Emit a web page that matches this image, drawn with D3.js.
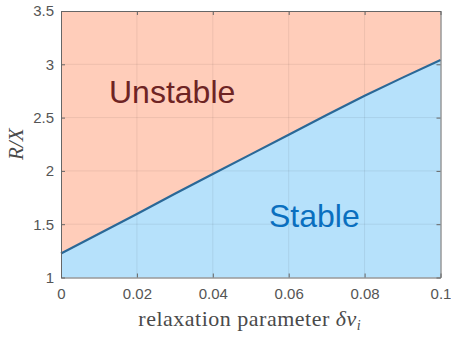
<!DOCTYPE html>
<html>
<head>
<meta charset="utf-8">
<script src="https://cdn.jsdelivr.net/npm/d3@7"></script>
<style>
  html, body { margin: 0; padding: 0; background: #fff; }
  svg { display: block; }
</style>
</head>
<body>
<svg id="chart" width="451" height="340"></svg>
<script>
// Stability boundary: critical R/X ratio versus relaxation parameter
const relaxation = [0, 0.01, 0.02, 0.03, 0.04, 0.05, 0.06, 0.07, 0.08, 0.09, 0.1];
const boundaryRX = [1.225, 1.41, 1.595, 1.785, 1.97, 2.155, 2.34, 2.525, 2.705, 2.875, 3.04];
const xTicks = [0, 0.02, 0.04, 0.06, 0.08, 0.1];
const yTicks = [1, 1.5, 2, 2.5, 3, 3.5];
const regionLabels = ["Unstable", "Stable"];

const W = 451, H = 340;
const m = { left: 61, right: 10.5, top: 11, bottom: 62.5 };
const svg = d3.select("#chart");

const x = d3.scaleLinear().domain([0, 0.1]).range([m.left, W - m.right]);
const y = d3.scaleLinear().domain([1, 3.5]).range([H - m.bottom, m.top]);

const pts = relaxation.map((v, i) => [v, boundaryRX[i]]);

// Unstable region (above the boundary)
svg.append("path")
  .datum(pts)
  .attr("fill", "#FFCDBA")
  .attr("d", d3.area().x(d => x(d[0])).y0(y(3.5)).y1(d => y(d[1])));

// Stable region (below the boundary)
svg.append("path")
  .datum(pts)
  .attr("fill", "#B6E1FB")
  .attr("d", d3.area().x(d => x(d[0])).y0(y(1)).y1(d => y(d[1])));

// Grid
const grid = svg.append("g").attr("stroke", "#000").attr("stroke-opacity", 0.07).attr("stroke-width", 1);
xTicks.slice(1, -1).forEach(t => {
  grid.append("line").attr("x1", x(t)).attr("x2", x(t)).attr("y1", y(1)).attr("y2", y(3.5));
});
yTicks.slice(1, -1).forEach(t => {
  grid.append("line").attr("x1", x(0)).attr("x2", x(0.1)).attr("y1", y(t)).attr("y2", y(t));
});

// Boundary curve
svg.append("path")
  .datum(pts)
  .attr("fill", "none")
  .attr("stroke", "#2A6897")
  .attr("stroke-width", 2.2)
  .attr("stroke-linejoin", "round")
  .attr("d", d3.line().x(d => x(d[0])).y(d => y(d[1])));

// Axes (ticks point inward, box drawn all round)
const fmt = d => d3.format("~g")(d);
const axisStyle = g => {
  g.selectAll(".domain").attr("stroke", "#666");
  g.selectAll(".tick line").attr("stroke", "#666");
  g.selectAll("text").attr("fill", "#555")
    .attr("font-family", "Liberation Sans, Arial, sans-serif").attr("font-size", 15);
};

svg.append("g").attr("transform", `translate(0,${y(1)})`)
  .call(d3.axisBottom(x).tickValues(xTicks).tickFormat(fmt).tickSizeInner(-4).tickSizeOuter(0).tickPadding(11))
  .call(axisStyle);
svg.append("g").attr("transform", `translate(${x(0)},0)`)
  .call(d3.axisLeft(y).tickValues(yTicks).tickFormat(fmt).tickSizeInner(-4).tickSizeOuter(0).tickPadding(7))
  .call(axisStyle);
svg.append("g").attr("transform", `translate(0,${y(3.5)})`)
  .call(d3.axisTop(x).tickValues(xTicks).tickFormat("").tickSizeInner(-4).tickSizeOuter(0))
  .call(axisStyle);
svg.append("g").attr("transform", `translate(${x(0.1)},0)`)
  .call(d3.axisRight(y).tickValues(yTicks).tickFormat("").tickSizeInner(-4).tickSizeOuter(0))
  .call(axisStyle);

// Region labels
svg.append("text").attr("x", 109).attr("y", 103)
  .attr("font-family", "Liberation Sans, Arial, sans-serif").attr("font-size", 32)
  .attr("fill", "#6E2424").text(regionLabels[0]);
svg.append("text").attr("x", 269).attr("y", 227)
  .attr("font-family", "Liberation Sans, Arial, sans-serif").attr("font-size", 32)
  .attr("fill", "#0A6FBF").text(regionLabels[1]);

// Axis titles
const xt = svg.append("text")
  .attr("x", (x(0) + x(0.1)) / 2 - 1).attr("y", 326)
  .attr("text-anchor", "middle")
  .attr("font-family", "Liberation Serif, Times New Roman, serif").attr("font-size", 22)
  .attr("letter-spacing", 0.5)
  .attr("fill", "#4a4a4a");
xt.append("tspan").text("relaxation parameter ");
xt.append("tspan").attr("font-style", "italic").text("δv");
xt.append("tspan").attr("font-style", "italic").attr("font-size", 14).attr("dy", 4).text("i");

svg.append("text")
  .attr("transform", `translate(23,${(y(1) + y(3.5)) / 2}) rotate(-90)`)
  .attr("text-anchor", "middle")
  .attr("font-family", "Liberation Serif, Times New Roman, serif").attr("font-size", 21)
  .attr("font-style", "italic").attr("fill", "#4a4a4a")
  .text("R/X");
</script>
</body>
</html>
